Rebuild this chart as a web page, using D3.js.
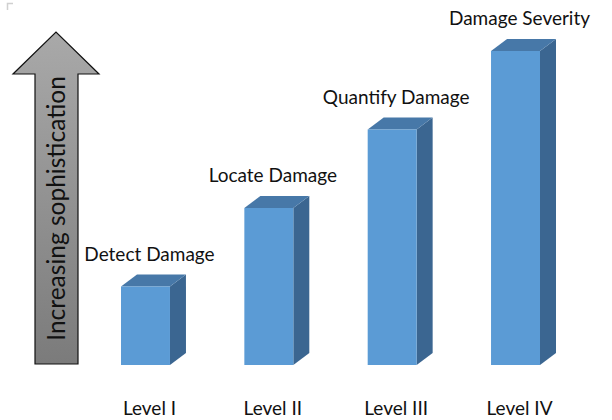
<!DOCTYPE html>
<html>
<head>
<meta charset="utf-8">
<script src="https://cdn.jsdelivr.net/npm/d3@7"></script>
<style>
html,body{margin:0;padding:0;background:#fff;}
svg{display:block;}
text{font-family:Lato,"Open Sans",sans-serif;}
</style>
</head>
<body>
<svg id="chart" width="612" height="420"></svg>
<script>
const levels = ["Level I", "Level II", "Level III", "Level IV"];
const stages = ["Detect Damage", "Locate Damage", "Quantify Damage", "Damage Severity"];
const sophistication = [1, 2, 3, 4];
const axisTitle = "Increasing sophistication";

const svg = d3.select("#chart");
const W = 612, H = 420;
const baseY = 365, topY = 51;
const depthX = 16, depthY = 12;

const x = d3.scaleBand().domain(levels).range([121, 540]).paddingInner(0.603).paddingOuter(0);
const y = d3.scaleLinear().domain([0, 4]).range([baseY, topY]);

// corner mark
svg.append("path").attr("d", "M7.5,10V3.5H13").attr("fill", "none")
  .attr("stroke", "#d0d0d0").attr("stroke-width", 1.5);

// arrow gradient
const defs = svg.append("defs");
const grad = defs.append("linearGradient").attr("id", "arrowGrad")
  .attr("x1", 0).attr("y1", 0).attr("x2", 0).attr("y2", 1);
grad.append("stop").attr("offset", "0%").attr("stop-color", "#a9a9a9");
grad.append("stop").attr("offset", "100%").attr("stop-color", "#7b7b7b");

const ax = {shaftL: 35, shaftR: 78, headL: 13, headR: 99, tipY: 32, headY: 74, bottom: 364};
const tipX = (ax.headL + ax.headR) / 2;
svg.append("path")
  .attr("d", `M${ax.shaftL},${ax.bottom}V${ax.headY}H${ax.headL}L${tipX},${ax.tipY}L${ax.headR},${ax.headY}H${ax.shaftR}V${ax.bottom}Z`)
  .attr("fill", "url(#arrowGrad)").attr("stroke", "#111").attr("stroke-width", 1.2)
  .attr("stroke-linejoin", "miter");

svg.append("text")
  .attr("transform", `translate(${(ax.shaftL + ax.shaftR) / 2 + 8},${(62 + 355) / 2}) rotate(-90)`)
  .attr("text-anchor", "middle")
  .attr("font-size", 24.5)
  .attr("fill", "#111")
  .text(axisTitle);

// bars
const bw = x.bandwidth();
const g = svg.append("g");
const bars = g.selectAll("g.bar").data(levels.map((l, i) => ({level: l, v: sophistication[i], stage: stages[i]})))
  .join("g").attr("class", "bar");

bars.append("path") // side
  .attr("d", d => {
    const x0 = x(d.level) + bw, yt = y(d.v);
    return `M${x0},${yt}L${x0 + depthX},${yt - depthY}L${x0 + depthX},${baseY - depthY}L${x0},${baseY}Z`;
  })
  .attr("fill", "#3b6691");
bars.append("path") // top
  .attr("d", d => {
    const x0 = x(d.level), yt = y(d.v);
    return `M${x0},${yt}L${x0 + depthX},${yt - depthY}L${x0 + bw + depthX},${yt - depthY}L${x0 + bw},${yt}Z`;
  })
  .attr("fill", "#4778a8");
bars.append("rect") // front
  .attr("x", d => x(d.level))
  .attr("y", d => y(d.v))
  .attr("width", bw)
  .attr("height", d => baseY - y(d.v))
  .attr("fill", "#5b9bd5");

bars.append("text")
  .attr("x", d => x(d.level) + bw / 2 + 4)
  .attr("y", d => y(d.v) - 26)
  .attr("text-anchor", "middle")
  .attr("font-size", 19)
  .attr("fill", "#111")
  .text(d => d.stage);

// category axis labels
const xAxis = d3.axisBottom(x).tickSize(0).tickPadding(0);
const axG = svg.append("g").attr("transform", `translate(4,${401})`).call(xAxis);
axG.select(".domain").remove();
axG.selectAll("text").attr("font-size", 19).attr("fill", "#111")
  .style("font-family", "Lato, 'Open Sans', sans-serif");
</script>
</body>
</html>
